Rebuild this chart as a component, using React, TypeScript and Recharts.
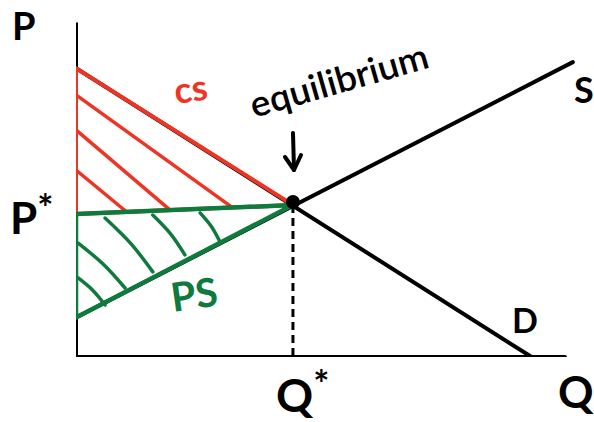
import React from 'react';
import { ComposedChart, Line, XAxis, YAxis, ReferenceDot } from 'recharts';

// price/quantity units; equilibrium at Q*=5, P*=5
const demand = [{ q: 0, p: 9.5 }, { q: 10.5, p: 0 }];
const supply = [{ q: 0, p: 1.3 }, { q: 11.45, p: 9.7 }];
const qAxis = [{ q: 0, p: 0 }, { q: 11.27, p: 0 }];
const pAxis = [{ q: 0, p: 0 }, { q: 0, p: 11 }];
const qStarDrop = [{ q: 5, p: 5 }, { q: 5, p: 0 }];
const equilibrium = { q: 5, p: 5.1 };

const csArea = [{ q: 0, p: 9.5 }, { q: 5, p: 5 }, { q: 0, p: 4.7 }, { q: 0, p: 9.5 }];
const psArea = [{ q: 0, p: 4.7 }, { q: 5, p: 5 }, { q: 0, p: 1.3 }, { q: 0, p: 4.7 }];

const csHatch = [
  [{ q: 0, p: 8.62 }, { q: 3.6, p: 4.92 }],
  [{ q: 0, p: 7.47 }, { q: 2.17, p: 4.83 }],
  [{ q: 0, p: 6.15 }, { q: 1.17, p: 4.77 }],
];

const psHatch = [
  [{ q: 0.67, p: 4.57 }, { q: 1.27, p: 3.72 }, { q: 1.77, p: 2.8 }],
  [{ q: 1.77, p: 4.67 }, { q: 2.18, p: 4.05 }, { q: 2.51, p: 3.36 }],
  [{ q: 2.86, p: 4.74 }, { q: 3.12, p: 4.29 }, { q: 3.32, p: 3.78 }],
  [{ q: 0.05, p: 3.75 }, { q: 0.63, p: 3.05 }, { q: 1.13, p: 2.27 }],
  [{ q: 0.05, p: 2.6 }, { q: 0.39, p: 2.19 }, { q: 0.67, p: 1.71 }],
];

const RED = '#ee3524';
const GREEN = '#0e7a3c';
const FONT = 'Lato, "Noto Sans", sans-serif';

export default function App() {
  const seg = (data: { q: number; p: number }[], key: string, stroke: string, width: number, extra: any = {}) => (
    <Line
      key={key}
      data={data}
      dataKey="p"
      type="linear"
      stroke={stroke}
      strokeWidth={width}
      strokeLinecap="round"
      strokeLinejoin="round"
      dot={false}
      activeDot={false}
      isAnimationActive={false}
      {...extra}
    />
  );

  return (
    <div style={{ position: 'absolute', left: 0, top: 0, width: 594, height: 422, background: '#fff' }}>
      <ComposedChart width={594} height={422} margin={{ top: 22.6, right: 6, bottom: 65, left: 76 }}>
        <XAxis dataKey="q" type="number" domain={[0, 11.8]} allowDataOverflow hide />
        <YAxis type="number" domain={[0, 11]} allowDataOverflow hide />
        {seg(pAxis, 'pAxis', '#000', 4)}
        {seg(qAxis, 'qAxis', '#000', 4)}
        {seg(demand, 'demand', '#000', 4)}
        {seg(supply, 'supply', '#000', 4)}
        {seg(qStarDrop, 'qstar', '#000', 3, { strokeDasharray: '8 5', strokeLinecap: 'butt' })}
        {seg(csArea, 'cs', RED, 4)}
        {csHatch.map((h, i) => seg(h, 'csh' + i, RED, 3.5))}
        {seg(psArea, 'ps', GREEN, 4.5)}
        {psHatch.map((h, i) => seg(h, 'psh' + i, GREEN, 3.5, { type: 'natural' }))}
        <ReferenceDot x={equilibrium.q} y={equilibrium.p} r={7} fill="#000" stroke="none" ifOverflow="visible" />
      </ComposedChart>
      <svg width={594} height={422} style={{ position: 'absolute', left: 0, top: 0, pointerEvents: 'none' }}>
        <g fontFamily={FONT} fill="#000" fontWeight={700}>
          <text x={12} y={40} fontSize={38}>P</text>
          <text x={10} y={234} fontSize={44}>P<tspan fontSize={38} dy={-12}>*</tspan></text>
          <text x={276} y={412} fontSize={46}>Q<tspan fontSize={38} dy={-14}>*</tspan></text>
          <text x={558} y={408} fontSize={44}>Q</text>
          <text x={574} y={103} fontSize={36}>S</text>
          <text x={512} y={333} fontSize={34}>D</text>
          <text
            x={254}
            y={118}
            fontSize={36}
            fontWeight={600}
            textLength={184}
            lengthAdjust="spacingAndGlyphs"
            transform="rotate(-16 254 118)"
          >
            equilibrium
          </text>
          <text x={176} y={104} fontSize={36} fill={RED} transform="rotate(-8 176 104)">cs</text>
          <text x={173} y={312} fontSize={40} fill={GREEN} transform="rotate(-8 173 312)">PS</text>
        </g>
        <g stroke="#000" strokeWidth={4} strokeLinecap="round" strokeLinejoin="round" fill="none">
          <path d="M293 133 L294 170" />
          <path d="M285 157 L294 170 L301 155" />
        </g>
      </svg>
    </div>
  );
}
